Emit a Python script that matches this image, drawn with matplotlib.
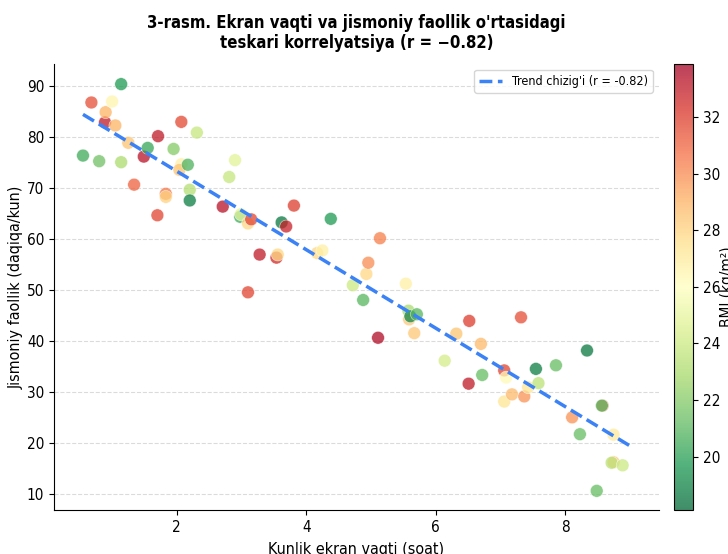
import matplotlib
matplotlib.use("Agg")
import matplotlib.pyplot as plt
import numpy as np

# daily screen time (hours)
screen_time = [0.55, 0.68, 0.80, 0.89, 0.90, 1.00, 1.05, 1.14, 1.14, 1.25,
               1.34, 1.49, 1.55, 1.70, 1.71, 1.83, 1.83, 1.95, 2.07, 2.07,
               2.04, 2.17, 2.20, 2.20, 2.31, 2.71, 2.81, 2.90, 2.98, 2.99,
               3.10, 3.15, 3.10, 3.28, 3.54, 3.56, 3.62, 3.69, 3.81, 4.17,
               4.25, 4.38, 4.72, 4.88, 4.93, 4.96, 5.14, 5.11, 5.54, 5.58,
               5.59, 5.61, 5.71, 5.67, 6.14, 6.32, 6.52, 6.51, 6.70, 6.72,
               7.06, 7.09, 7.06, 7.18, 7.32, 7.37, 7.43, 7.55, 7.59, 7.86,
               8.11, 8.23, 8.34, 8.58, 8.57, 8.75, 8.75, 8.72, 8.89, 8.49]

# physical activity (minutes/day)
activity = [76.3, 86.7, 75.2, 82.8, 84.8, 86.9, 82.2, 90.3, 75.0, 78.8,
            70.6, 76.1, 77.8, 64.6, 80.1, 68.8, 68.2, 77.6, 82.9, 74.6,
            73.5, 74.5, 69.6, 67.5, 80.8, 66.3, 72.1, 75.4, 64.3, 64.8,
            63.0, 63.8, 49.5, 56.9, 56.3, 56.9, 63.2, 62.4, 66.5, 57.2,
            57.7, 63.9, 50.9, 48.0, 53.1, 55.3, 60.1, 40.6, 51.2, 45.9,
            44.2, 44.8, 45.2, 41.5, 36.1, 41.4, 43.9, 31.6, 39.4, 33.3,
            34.2, 32.8, 28.1, 29.5, 44.6, 29.1, 30.9, 34.5, 31.7, 35.2,
            25.0, 21.7, 38.1, 27.3, 27.3, 21.6, 16.2, 16.1, 15.6, 10.6]

# BMI (kg/m2)
bmi = [20.5, 31.5, 21.5, 33.0, 29.0, 26.5, 29.0, 19.8, 23.0, 28.5,
       31.0, 33.3, 20.3, 31.8, 33.0, 30.5, 28.0, 22.0, 31.7, 26.8,
       28.5, 20.8, 23.3, 18.8, 23.8, 33.3, 23.8, 24.8, 20.5, 25.0,
       27.8, 31.8, 31.8, 33.0, 32.5, 27.8, 18.7, 32.8, 32.0, 27.8,
       26.8, 19.8, 24.0, 21.0, 27.8, 30.0, 30.3, 33.5, 26.8, 23.0,
       28.3, 19.2, 21.0, 28.3, 24.3, 28.5, 32.0, 33.0, 28.8, 21.3,
       31.8, 26.3, 27.3, 28.8, 31.5, 29.8, 27.3, 18.8, 23.5, 21.3,
       29.8, 21.3, 18.7, 30.8, 21.0, 27.0, 28.5, 23.5, 24.0, 21.3]

r_value = -0.82


def main():
    plt.rcParams["font.family"] = "DejaVu Sans"
    plt.rcParams["font.stretch"] = "condensed"

    x = np.array(screen_time)
    y = np.array(activity)

    fig = plt.figure(figsize=(7.28, 5.54), dpi=100)
    ax = fig.add_axes([0.074, 0.079, 0.831, 0.806])
    cax = fig.add_axes([0.926, 0.079, 0.026, 0.806])

    sc = ax.scatter(x, y, c=bmi, cmap="RdYlGn_r", vmin=18.1, vmax=33.9,
                    s=85, alpha=0.75, edgecolors="white", linewidths=0.4, zorder=3)

    # trend line
    slope, intercept = np.polyfit(x, y, 1)
    xs = np.linspace(x.min(), x.max() + 0.1, 100)
    ax.plot(xs, slope * xs + intercept, "--", color="#3b82f6", linewidth=2.5,
            label="Trend chizig'i (r = %.2f)" % r_value, zorder=4)

    cb = fig.colorbar(sc, cax=cax)
    cb.set_label("BMI (kg/m²)", fontsize=11, labelpad=0)
    cb.ax.tick_params(labelsize=11)

    ax.set_xlim(0.1, 9.45)
    ax.set_ylim(6.8, 94.3)
    ax.set_xticks([2, 4, 6, 8])
    ax.set_yticks(range(10, 91, 10))
    ax.tick_params(labelsize=11)
    ax.grid(axis="y", linestyle="--", color="#cccccc", alpha=0.7)
    ax.spines["top"].set_visible(False)
    ax.spines["right"].set_visible(False)

    ax.set_xlabel("Kunlik ekran vaqti (soat)", fontsize=11.5, labelpad=5)
    ax.set_ylabel("Jismoniy faollik (daqiqa/kun)", fontsize=11.5, labelpad=2)
    ax.set_title("3-rasm. Ekran vaqti va jismoniy faollik o'rtasidagi\n"
                 "teskari korrelyatsiya (r = \u22120.82)",
                 fontsize=12, fontweight="bold", pad=11)
    ax.legend(loc="upper right", fontsize=9, handlelength=1.8)

    fig.savefig("out.png", dpi=100)


if __name__ == "__main__":
    main()
